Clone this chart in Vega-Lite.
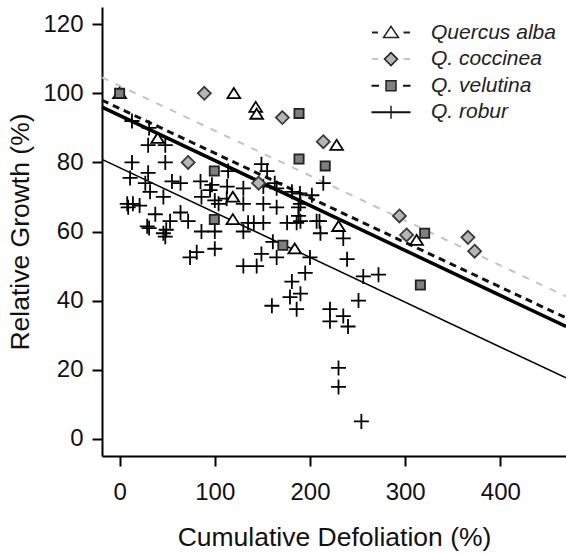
{
  "$schema": "https://vega.github.io/schema/vega-lite/v6.json",
  "width": 464,
  "height": 449,
  "autosize": {"type": "none"},
  "padding": {"left": 102, "top": 7, "right": 0, "bottom": 98},
  "background": "#ffffff",
  "config": {
    "view": {"stroke": null},
    "font": "Liberation Sans",
    "axis": {
      "grid": false,
      "domainColor": "#000000",
      "domainWidth": 2,
      "tickColor": "#000000",
      "tickWidth": 2,
      "tickSize": 10,
      "labelFont": "Liberation Sans",
      "labelFontSize": 24,
      "labelColor": "#111111",
      "titleFont": "Liberation Sans",
      "titleFontSize": 26.5,
      "titleFontWeight": "normal",
      "titleColor": "#111111"
    }
  },
  "datasets": {
    "pts": [
      {"species": "Q. robur", "x": 13, "y": 92},
      {"species": "Q. robur", "x": 31, "y": 90},
      {"species": "Q. robur", "x": 30, "y": 85},
      {"species": "Q. robur", "x": 48, "y": 85},
      {"species": "Q. robur", "x": 13, "y": 80},
      {"species": "Q. robur", "x": 48, "y": 80},
      {"species": "Q. robur", "x": 11, "y": 75.5},
      {"species": "Q. robur", "x": 30, "y": 77},
      {"species": "Q. robur", "x": 27, "y": 74},
      {"species": "Q. robur", "x": 55, "y": 74.5},
      {"species": "Q. robur", "x": 64, "y": 74},
      {"species": "Q. robur", "x": 85, "y": 74.5},
      {"species": "Q. robur", "x": 97, "y": 73.5},
      {"species": "Q. robur", "x": 113, "y": 73},
      {"species": "Q. robur", "x": 114, "y": 77.5},
      {"species": "Q. robur", "x": 149, "y": 79.5},
      {"species": "Q. robur", "x": 155, "y": 77.5},
      {"species": "Q. robur", "x": 130, "y": 72.5},
      {"species": "Q. robur", "x": 163, "y": 74},
      {"species": "Q. robur", "x": 181, "y": 71.5},
      {"species": "Q. robur", "x": 151, "y": 73},
      {"species": "Q. robur", "x": 214, "y": 74},
      {"species": "Q. robur", "x": 86, "y": 70},
      {"species": "Q. robur", "x": 46, "y": 70},
      {"species": "Q. robur", "x": 190, "y": 68},
      {"species": "Q. robur", "x": 8, "y": 68},
      {"species": "Q. robur", "x": 14, "y": 68},
      {"species": "Q. robur", "x": 21, "y": 67.5},
      {"species": "Q. robur", "x": 37.5, "y": 65},
      {"species": "Q. robur", "x": 29, "y": 61.5},
      {"species": "Q. robur", "x": 31, "y": 61},
      {"species": "Q. robur", "x": 46, "y": 59.5},
      {"species": "Q. robur", "x": 49, "y": 60.5},
      {"species": "Q. robur", "x": 48, "y": 58.5},
      {"species": "Q. robur", "x": 53, "y": 63},
      {"species": "Q. robur", "x": 64, "y": 65.5},
      {"species": "Q. robur", "x": 72, "y": 63},
      {"species": "Q. robur", "x": 104, "y": 68},
      {"species": "Q. robur", "x": 130, "y": 68},
      {"species": "Q. robur", "x": 151, "y": 68},
      {"species": "Q. robur", "x": 165, "y": 67},
      {"species": "Q. robur", "x": 188, "y": 67},
      {"species": "Q. robur", "x": 202, "y": 70.5},
      {"species": "Q. robur", "x": 210, "y": 63},
      {"species": "Q. robur", "x": 207, "y": 63},
      {"species": "Q. robur", "x": 186, "y": 62.5},
      {"species": "Q. robur", "x": 190, "y": 63},
      {"species": "Q. robur", "x": 188, "y": 64.5},
      {"species": "Q. robur", "x": 176, "y": 62.5},
      {"species": "Q. robur", "x": 135, "y": 62.5},
      {"species": "Q. robur", "x": 141, "y": 62.5},
      {"species": "Q. robur", "x": 151, "y": 62.5},
      {"species": "Q. robur", "x": 130, "y": 60},
      {"species": "Q. robur", "x": 86, "y": 60},
      {"species": "Q. robur", "x": 100, "y": 60},
      {"species": "Q. robur", "x": 161, "y": 57},
      {"species": "Q. robur", "x": 211, "y": 59.5},
      {"species": "Q. robur", "x": 235, "y": 58},
      {"species": "Q. robur", "x": 100, "y": 55},
      {"species": "Q. robur", "x": 74, "y": 52.5},
      {"species": "Q. robur", "x": 81, "y": 54},
      {"species": "Q. robur", "x": 130, "y": 50},
      {"species": "Q. robur", "x": 144, "y": 50},
      {"species": "Q. robur", "x": 149, "y": 53.5},
      {"species": "Q. robur", "x": 165, "y": 52.5},
      {"species": "Q. robur", "x": 200, "y": 52.5},
      {"species": "Q. robur", "x": 195, "y": 48},
      {"species": "Q. robur", "x": 181, "y": 45.5},
      {"species": "Q. robur", "x": 179, "y": 41},
      {"species": "Q. robur", "x": 190, "y": 42},
      {"species": "Q. robur", "x": 186, "y": 37.5},
      {"species": "Q. robur", "x": 160, "y": 38.5},
      {"species": "Q. robur", "x": 221, "y": 37.5},
      {"species": "Q. robur", "x": 221, "y": 34},
      {"species": "Q. robur", "x": 235, "y": 35.5},
      {"species": "Q. robur", "x": 240, "y": 32.5},
      {"species": "Q. robur", "x": 230, "y": 20.5},
      {"species": "Q. robur", "x": 230, "y": 15},
      {"species": "Q. robur", "x": 254, "y": 5},
      {"species": "Q. robur", "x": 239, "y": 52},
      {"species": "Q. robur", "x": 256, "y": 47},
      {"species": "Q. robur", "x": 272, "y": 47.5},
      {"species": "Q. robur", "x": 251, "y": 40},
      {"species": "Q. robur", "x": 32, "y": 71.5},
      {"species": "Q. robur", "x": 95, "y": 72},
      {"species": "Q. robur", "x": 100, "y": 69},
      {"species": "Q. robur", "x": 112.5, "y": 69.5},
      {"species": "Q. robur", "x": 165, "y": 72.5},
      {"species": "Q. robur", "x": 189.5, "y": 71},
      {"species": "Q. robur", "x": 9, "y": 67},
      {"species": "Quercus alba", "x": 0, "y": 100},
      {"species": "Quercus alba", "x": 40, "y": 87},
      {"species": "Quercus alba", "x": 120, "y": 100},
      {"species": "Quercus alba", "x": 143, "y": 96},
      {"species": "Quercus alba", "x": 144, "y": 94},
      {"species": "Quercus alba", "x": 228, "y": 85},
      {"species": "Quercus alba", "x": 119, "y": 70},
      {"species": "Quercus alba", "x": 119, "y": 63.5},
      {"species": "Quercus alba", "x": 184, "y": 55},
      {"species": "Quercus alba", "x": 230, "y": 61.5},
      {"species": "Quercus alba", "x": 312, "y": 57.5},
      {"species": "Q. coccinea", "x": 89, "y": 100},
      {"species": "Q. coccinea", "x": 171, "y": 93},
      {"species": "Q. coccinea", "x": 214, "y": 86},
      {"species": "Q. coccinea", "x": 72, "y": 80},
      {"species": "Q. coccinea", "x": 146, "y": 74},
      {"species": "Q. coccinea", "x": 294, "y": 64.5},
      {"species": "Q. coccinea", "x": 301.5, "y": 59},
      {"species": "Q. coccinea", "x": 366, "y": 58.3},
      {"species": "Q. coccinea", "x": 373, "y": 54.3},
      {"species": "Q. velutina", "x": 0, "y": 100},
      {"species": "Q. velutina", "x": 99.5, "y": 77.5},
      {"species": "Q. velutina", "x": 99.5, "y": 63.5},
      {"species": "Q. velutina", "x": 171.5, "y": 56},
      {"species": "Q. velutina", "x": 188.5, "y": 94.2},
      {"species": "Q. velutina", "x": 188.5, "y": 81},
      {"species": "Q. velutina", "x": 216, "y": 79},
      {"species": "Q. velutina", "x": 320.5, "y": 59.5},
      {"species": "Q. velutina", "x": 316, "y": 44.5}
    ],
    "lines": [
      {"line": "coccinea", "x": -18.5, "y": 104.6, "x2": 469, "y2": 41.2},
      {"line": "velutina", "x": -18.5, "y": 98, "x2": 469, "y2": 35},
      {"line": "all", "x": -18.5, "y": 96, "x2": 469, "y2": 32.5},
      {"line": "robur", "x": -18.5, "y": 80.9, "x2": 469, "y2": 17.6}
    ]
  },
  "encoding": {
    "x": {
      "field": "x",
      "type": "quantitative",
      "scale": {"domain": [-18.5, 469], "nice": false, "zero": false},
      "axis": {"values": [0, 100, 200, 300, 400], "title": "Cumulative Defoliation (%)", "labelPadding": 14, "titlePadding": 20}
    },
    "y": {
      "field": "y",
      "type": "quantitative",
      "scale": {"domain": [-5, 125], "nice": false, "zero": false},
      "axis": {"values": [0, 20, 40, 60, 80, 100, 120], "title": "Relative Growth (%)", "labelPadding": 9, "titlePadding": 8}
    }
  },
  "layer": [
    {
      "data": {"name": "lines"},
      "transform": [{"filter": "datum.line === 'coccinea'"}],
      "mark": {"type": "rule", "stroke": "#c4c4c4", "strokeWidth": 2, "strokeDash": [7, 8]},
      "encoding": {"x2": {"field": "x2"}, "y2": {"field": "y2"}}
    },
    {
      "data": {"name": "lines"},
      "transform": [{"filter": "datum.line === 'robur'"}],
      "mark": {"type": "rule", "stroke": "#000000", "strokeWidth": 1.5},
      "encoding": {"x2": {"field": "x2"}, "y2": {"field": "y2"}}
    },
    {
      "data": {"name": "lines"},
      "transform": [{"filter": "datum.line === 'velutina'"}],
      "mark": {"type": "rule", "stroke": "#111111", "strokeWidth": 3, "strokeDash": [7, 5]},
      "encoding": {"x2": {"field": "x2"}, "y2": {"field": "y2"}}
    },
    {
      "data": {"name": "lines"},
      "transform": [{"filter": "datum.line === 'all'"}],
      "mark": {"type": "rule", "stroke": "#000000", "strokeWidth": 3.5},
      "encoding": {"x2": {"field": "x2"}, "y2": {"field": "y2"}}
    },
    {
      "data": {"name": "pts"},
      "mark": {"type": "point", "filled": true, "opacity": 1, "size": 100, "strokeWidth": 1.8},
      "encoding": {
        "shape": {
          "field": "species", "type": "nominal",
          "scale": {
            "domain": ["Quercus alba", "Q. coccinea", "Q. velutina", "Q. robur"],
            "range": ["M0,-1.06L1.27,0.94L-1.27,0.94Z", "M0,-1.3L1.3,0L0,1.3L-1.3,0Z", "M-0.92,-0.92L0.92,-0.92L0.92,0.92L-0.92,0.92Z", "M-1.5,0L1.5,0M0,-1.5L0,1.5"]
          },
          "legend": null
        },
        "fill": {
          "field": "species", "type": "nominal",
          "scale": {"domain": ["Quercus alba", "Q. coccinea", "Q. velutina", "Q. robur"], "range": ["#ffffff", "#b5b5b5", "#7f7f7f", "transparent"]},
          "legend": null
        },
        "stroke": {
          "field": "species", "type": "nominal",
          "scale": {"domain": ["Quercus alba", "Q. coccinea", "Q. velutina", "Q. robur"], "range": ["#000000", "#3a3a3a", "#222222", "#000000"]},
          "legend": null
        }
      }
    },
    {
      "data": {"name": "pts"},
      "mark": {"type": "point", "filled": false, "opacity": 0, "size": 400, "strokeWidth": 2},
      "encoding": {
        "shape": {
          "field": "species", "type": "nominal",
          "scale": {
            "domain": ["Quercus alba", "Q. coccinea", "Q. velutina", "Q. robur"],
            "range": ["M-1.9,0L-1.3,0M1.25,0L1.9,0", "M-1.9,0L-1.3,0M1.25,0L1.9,0", "M-1.95,0L-1.2,0M1.2,0L1.95,0", "M-1.95,0L1.95,0"]
          },
          "legend": {
            "orient": "none", "legendX": 278, "legendY": 14.5, "title": null, "padding": 0,
            "symbolSize": 400, "symbolStrokeWidth": 2, "symbolOffset": 0,
            "labelFont": "Liberation Sans", "labelFontSize": 21, "labelFontStyle": "italic", "labelColor": "#222222",
            "labelOffset": 29, "rowPadding": 5.6
          }
        },
        "stroke": {
          "field": "species", "type": "nominal",
          "scale": {"domain": ["Quercus alba", "Q. coccinea", "Q. velutina", "Q. robur"], "range": ["#222222", "#c4c4c4", "#111111", "#111111"]}
        }
      }
    },
    {
      "data": {"name": "pts"},
      "mark": {"type": "point", "filled": true, "opacity": 0, "size": 400, "strokeWidth": 1.5, "stroke": "#222222"},
      "encoding": {
        "shape": {
          "field": "species", "type": "nominal",
          "scale": {
            "domain": ["Quercus alba", "Q. coccinea", "Q. velutina", "Q. robur"],
            "range": ["M0,-0.62L0.75,0.5L-0.75,0.5Z", "M0,-0.65L0.65,0L0,0.65L-0.65,0Z", "M-0.5,-0.5L0.5,-0.5L0.5,0.5L-0.5,0.5Z", "M0,-0.65L0,0.65"]
          },
          "legend": {
            "orient": "none", "legendX": 278, "legendY": 14.5, "title": null, "padding": 0,
            "symbolSize": 400, "symbolStrokeWidth": 1.5, "symbolOffset": 0, "symbolStrokeColor": "#222222",
            "labelFont": "Liberation Sans", "labelFontSize": 21, "labelFontStyle": "italic", "labelOpacity": 0,
            "labelOffset": 29, "rowPadding": 5.6
          }
        },
        "color": {
          "field": "species", "type": "nominal",
          "scale": {"domain": ["Quercus alba", "Q. coccinea", "Q. velutina", "Q. robur"], "range": ["#ffffff", "#b5b5b5", "#7f7f7f", "transparent"]}
        }
      }
    }
  ],
  "resolve": {"scale": {"shape": "independent", "fill": "independent", "stroke": "independent", "color": "independent"}}
}
